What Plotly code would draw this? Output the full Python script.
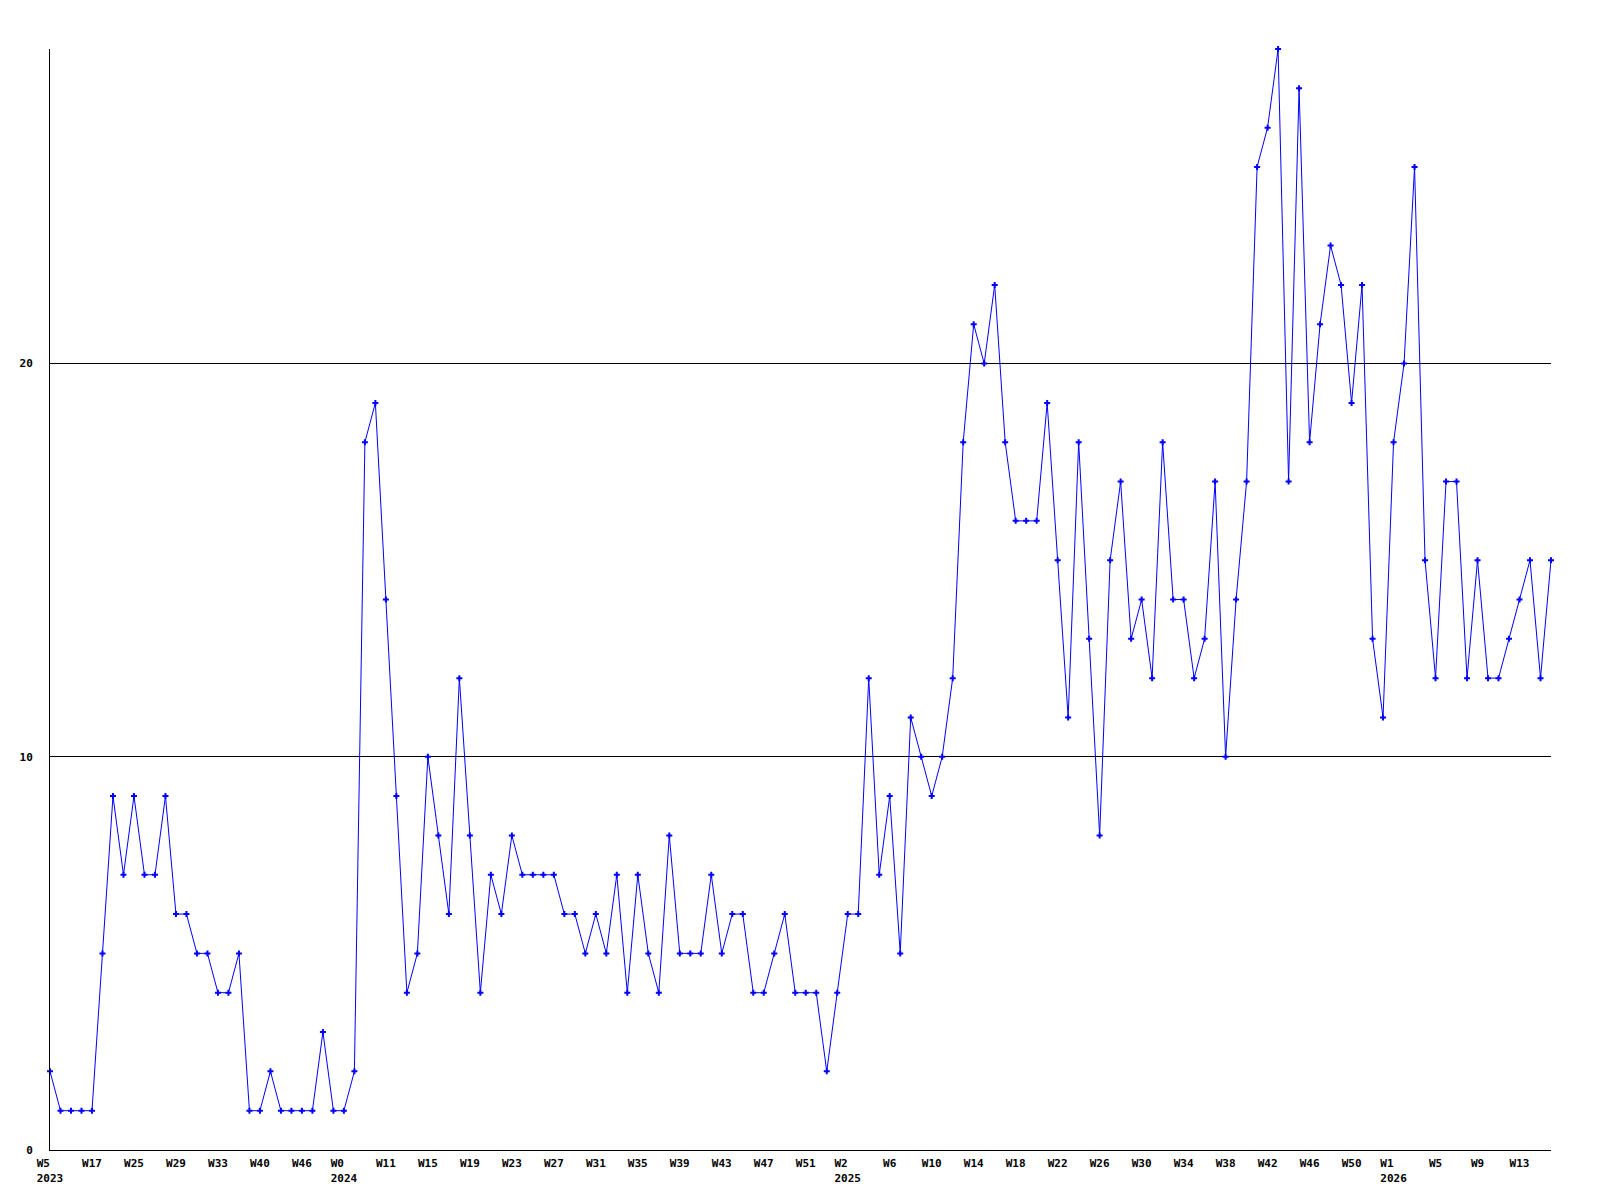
import plotly.graph_objects as go

values = [
    2, 1, 1, 1, 1, 5, 9, 7, 9, 7,
    7, 9, 6, 6, 5, 5, 4, 4, 5, 1,
    1, 2, 1, 1, 1, 1, 3, 1, 1, 2,
    18, 19, 14, 9, 4, 5, 10, 8, 6, 12,
    8, 4, 7, 6, 8, 7, 7, 7, 7, 6,
    6, 5, 6, 5, 7, 4, 7, 5, 4, 8,
    5, 5, 5, 7, 5, 6, 6, 4, 4, 5,
    6, 4, 4, 4, 2, 4, 6, 6, 12, 7,
    9, 5, 11, 10, 9, 10, 12, 18, 21, 20,
    22, 18, 16, 16, 16, 19, 15, 11, 18, 13,
    8, 15, 17, 13, 14, 12, 18, 14, 14, 12,
    13, 17, 10, 14, 17, 25, 26, 28, 17, 27,
    18, 21, 23, 22, 19, 22, 13, 11, 18, 20,
    25, 15, 12, 17, 17, 12, 15, 12, 12, 13,
    14, 15, 12, 15,
]

week_labels = [
    "W5", "W17", "W25", "W29", "W33", "W40", "W46", "W0", "W11", "W15",
    "W19", "W23", "W27", "W31", "W35", "W39", "W43", "W47", "W51", "W2",
    "W6", "W10", "W14", "W18", "W22", "W26", "W30", "W34", "W38", "W42",
    "W46", "W50", "W1", "W5", "W9", "W13",
]
year_labels = {0: "2023", 7: "2024", 19: "2025", 32: "2026"}
label_step = 4

x = list(range(len(values)))
tickvals = [i * label_step for i in range(len(week_labels))]
ticktext = []
for i, w in enumerate(week_labels):
    if i in year_labels:
        yr = year_labels[i]
        pad = "\u00a0" * max(0, len(yr) - len(w))
        ticktext.append(w + pad + "<br>" + yr)
    else:
        ticktext.append(w)

font_family = "DejaVu Sans Mono"

fig = go.Figure()
fig.add_trace(go.Scatter(
    x=x, y=values, mode="lines+markers",
    line=dict(color="#0000ff", width=1),
    marker=dict(symbol="cross", size=5, color="#0000ff", line=dict(width=0)),
    cliponaxis=False,
    showlegend=False,
))

fig.update_layout(
    width=1584, height=1184,
    margin=dict(l=42, r=41, t=41, b=42, autoexpand=False),
    paper_bgcolor="white", plot_bgcolor="white",
    font=dict(family=font_family, size=11, color="black"),
    xaxis=dict(
        range=[0, len(values) - 1],
        tickmode="array", tickvals=tickvals, ticktext=ticktext,
        showgrid=False, zeroline=False,
        showline=True, linecolor="black", linewidth=1,
        ticks="", tickangle=0, ticklabelstandoff=3, automargin=False,
        tickfont=dict(family=font_family, size=11, color="black", weight="bold"),
    ),
    yaxis=dict(
        range=[0, 28],
        tickmode="array", tickvals=[0, 10, 20], ticktext=["0", "10", "20"],
        showgrid=True, gridcolor="black", gridwidth=1,
        zeroline=False,
        showline=True, linecolor="black", linewidth=1,
        ticks="", ticklabelstandoff=14, automargin=False,
        tickfont=dict(family=font_family, size=11, color="black", weight="bold"),
    ),
)

fig.write_html("out.html")
